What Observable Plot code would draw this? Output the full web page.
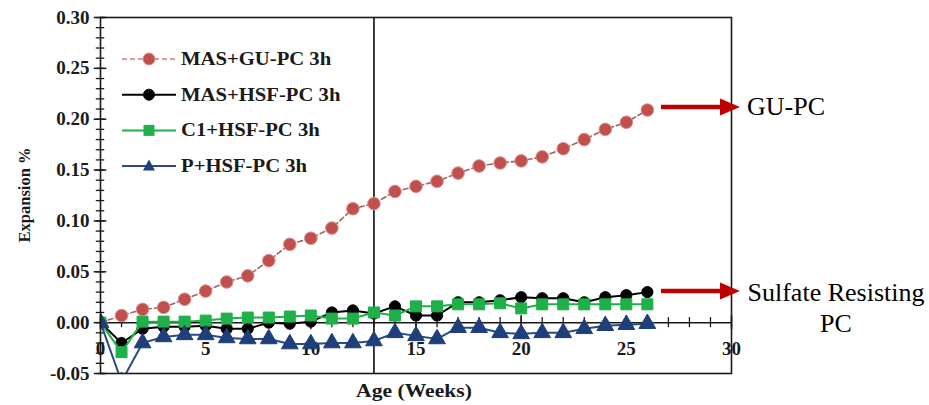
<!DOCTYPE html>
<html>
<head>
<meta charset="utf-8">
<script src="https://cdn.jsdelivr.net/npm/d3@7"></script>
<script src="https://cdn.jsdelivr.net/npm/@observablehq/plot@0.6"></script>
<style>
  body { margin: 0; background: #fff; }
  #wrap { position: relative; width: 929px; height: 405px; overflow: hidden; background: #fff; }
  #wrap > svg { position: absolute; left: 0; top: 0; }
  #wrap svg text { font-family: 'Liberation Serif', 'Times New Roman', 'DejaVu Serif', serif !important; }
  #overlay { pointer-events: none; }
</style>
</head>
<body>
<div id="wrap"></div>
<script>
// ---- data ----
const weeks = [0,1,2,3,4,5,6,7,8,9,10,11,12,13,14,15,16,17,18,19,20,21,22,23,24,25,26];
const seriesNames = ["MAS+GU-PC 3h", "MAS+HSF-PC 3h", "C1+HSF-PC 3h", "P+HSF-PC 3h"];
const masGuPc = [0, 0.007, 0.013, 0.015, 0.023, 0.031, 0.040, 0.046, 0.061, 0.077, 0.083, 0.093, 0.112, 0.117, 0.129, 0.134, 0.139, 0.147, 0.154, 0.157, 0.159, 0.163, 0.171, 0.180, 0.190, 0.197, 0.209];
const masHsfPc = [0, -0.020, -0.006, -0.004, -0.004, -0.003, -0.006, -0.006, 0.000, -0.001, 0.001, 0.010, 0.012, 0.009, 0.016, 0.007, 0.007, 0.020, 0.020, 0.022, 0.025, 0.024, 0.024, 0.020, 0.025, 0.027, 0.030];
const c1HsfPc = [0, -0.029, 0.001, 0.001, 0.001, 0.002, 0.004, 0.005, 0.005, 0.006, 0.007, 0.004, 0.004, 0.010, 0.007, 0.016, 0.016, 0.018, 0.018, 0.019, 0.014, 0.018, 0.018, 0.018, 0.018, 0.018, 0.018];
const pHsfPc = [0, -0.058, -0.020, -0.014, -0.012, -0.012, -0.015, -0.016, -0.016, -0.021, -0.021, -0.020, -0.020, -0.018, -0.010, -0.013, -0.016, -0.005, -0.005, -0.010, -0.011, -0.010, -0.010, -0.006, -0.003, -0.002, -0.001];
const xTickLabels = [0, 5, 10, 15, 20, 25, 30];
const yTickLabels = [-0.05, 0, 0.05, 0.10, 0.15, 0.20, 0.25, 0.30];
const xTitle = "Age (Weeks)";
const yTitle = "Expansion %";
const markerWeek = 13;
const annotationTexts = ["GU-PC", "Sulfate Resisting", "PC"];

// ---- styles ----
const seriesValues = [masGuPc, masHsfPc, c1HsfPc, pHsfPc];
const colors = ["#c0504d", "#000000", "#1fb04a", "#1f3f7a"];
const lineColors = ["#a06462", "#000000", "#1fb04a", "#2a4a85"];
const symbols = ["circle", "circle", "square", "triangle"];
const dashes = ["5,3", null, null, null];
const radii = [6.3, 5.6, 6.2, 6.2];

const data = [];
seriesNames.forEach((name, i) => weeks.forEach((w, j) => data.push({series: name, idx: i, week: w, value: seriesValues[i][j]})));

const yMinor = d3.range(-0.05, 0.3001, 0.01);
const xMinor = d3.range(0, 31, 1);

const ink = "#1a1a1a";
const serif = "'Liberation Serif', 'Times New Roman', 'DejaVu Serif', serif";
const marks = [
  Plot.ruleY([0], {stroke: ink, strokeWidth: 1.5}),
  Plot.ruleX([markerWeek], {stroke: ink, strokeWidth: 1.7}),
  Plot.ruleY(yMinor, {y: d => d, x1: -0.2, x2: 0.2, stroke: ink, strokeWidth: 1.3}),
  Plot.ruleY(yTickLabels, {y: d => d, x1: -0.3, x2: 0.3, stroke: ink, strokeWidth: 1.5}),
  Plot.ruleX(xMinor, {x: d => d, y1: -0.005, y2: 0.005, stroke: ink, strokeWidth: 1.3}),
  Plot.ruleX(xTickLabels, {x: d => d, y1: -0.007, y2: 0.007, stroke: ink, strokeWidth: 1.5}),
  Plot.axisY({ticks: yTickLabels, tickSize: 0, tickPadding: 11, tickFormat: d => d.toFixed(2), fontSize: 19, fontWeight: "bold", label: null}),
  Plot.text(xTickLabels, {x: d => d, y: -0.0255, text: d => String(d), fontSize: 19, fontWeight: "bold", fill: ink})
];
[0, 1, 2, 3].forEach(i => {
  const d = data.filter(r => r.idx === i);
  marks.push(Plot.line(d, {x: "week", y: "value", stroke: lineColors[i], strokeWidth: i === 0 ? 1.6 : 2, strokeDasharray: dashes[i], clip: true}));
  marks.push(Plot.dot(d, {x: "week", y: "value", symbol: symbols[i], r: radii[i], fill: colors[i], stroke: i === 0 ? "#dc8f8c" : colors[i], strokeWidth: 1, clip: true}));
});
marks.push(Plot.frame({stroke: ink, strokeWidth: 1.6}));

const chart = Plot.plot({
  width: 929,
  height: 405,
  marginLeft: 100,
  marginRight: 198,
  marginTop: 17,
  marginBottom: 32,
  x: {domain: [0, 30], axis: null},
  y: {domain: [-0.05, 0.30]},
  style: {fontFamily: serif, fontWeight: "bold", color: ink, background: "transparent"},
  marks
});
const wrap = document.getElementById("wrap");
wrap.appendChild(chart);

// ---- overlay: legend, titles, annotations ----
const NS = "http://www.w3.org/2000/svg";
const ov = document.createElementNS(NS, "svg");
ov.setAttribute("id", "overlay");
ov.setAttribute("width", 929);
ov.setAttribute("height", 405);
function el(tag, attrs, text) {
  const e = document.createElementNS(NS, tag);
  for (const k in attrs) if (attrs[k] != null) e.setAttribute(k, attrs[k]);
  if (text != null) e.textContent = text;
  ov.appendChild(e);
  return e;
}

// legend
seriesNames.forEach((name, i) => {
  const cy = 59 + i * 35.7;
  el("line", {x1: 122, x2: 176, y1: cy, y2: cy, stroke: i === 0 ? "#d07f7c" : lineColors[i], "stroke-width": i === 0 ? 1.4 : 2, "stroke-dasharray": dashes[i]});
  const cx = 149;
  if (symbols[i] === "circle") el("circle", {cx, cy, r: i === 0 ? 6 : 5.5, fill: colors[i], stroke: i === 0 ? "#dc8f8c" : colors[i]});
  else if (symbols[i] === "square") el("rect", {x: cx - 5.5, y: cy - 5.5, width: 11, height: 11, fill: colors[i]});
  else el("path", {d: `M${cx},${cy - 6.5}L${cx + 6},${cy + 4.5}L${cx - 6},${cy + 4.5}Z`, fill: colors[i]});
  el("text", {x: 181, y: cy, "dominant-baseline": "central", "font-weight": "bold", "font-size": 18, transform: `translate(181,0) scale(1.15,1) translate(-181,0)`, fill: ink}, name);
});

// axis titles
el("text", {x: 0, y: 0, transform: "translate(24,195) rotate(-90)", "text-anchor": "middle", "dominant-baseline": "central", "font-weight": "bold", "font-size": 16.5, fill: ink}, yTitle);
el("text", {x: 414, y: 397, transform: "translate(414,0) scale(1.2,1) translate(-414,0)", "text-anchor": "middle", "font-weight": "bold", "font-size": 18, fill: ink}, xTitle);

// annotation arrows
const arrowRed = "#c00000";
[107, 291].forEach(ay => {
  el("line", {x1: 661, x2: 724, y1: ay, y2: ay, stroke: arrowRed, "stroke-width": 4.5});
  el("path", {d: `M720,${ay - 8.5}L740,${ay}L720,${ay + 8.5}Z`, fill: arrowRed});
});
el("text", {x: 747, y: 115, "font-size": 26, fill: "#000"}, annotationTexts[0]);
el("text", {x: 836, y: 301, "text-anchor": "middle", "font-size": 26, fill: "#000"}, annotationTexts[1]);
el("text", {x: 836, y: 332, "text-anchor": "middle", "font-size": 26, fill: "#000"}, annotationTexts[2]);

wrap.appendChild(ov);
</script>
</body>
</html>
